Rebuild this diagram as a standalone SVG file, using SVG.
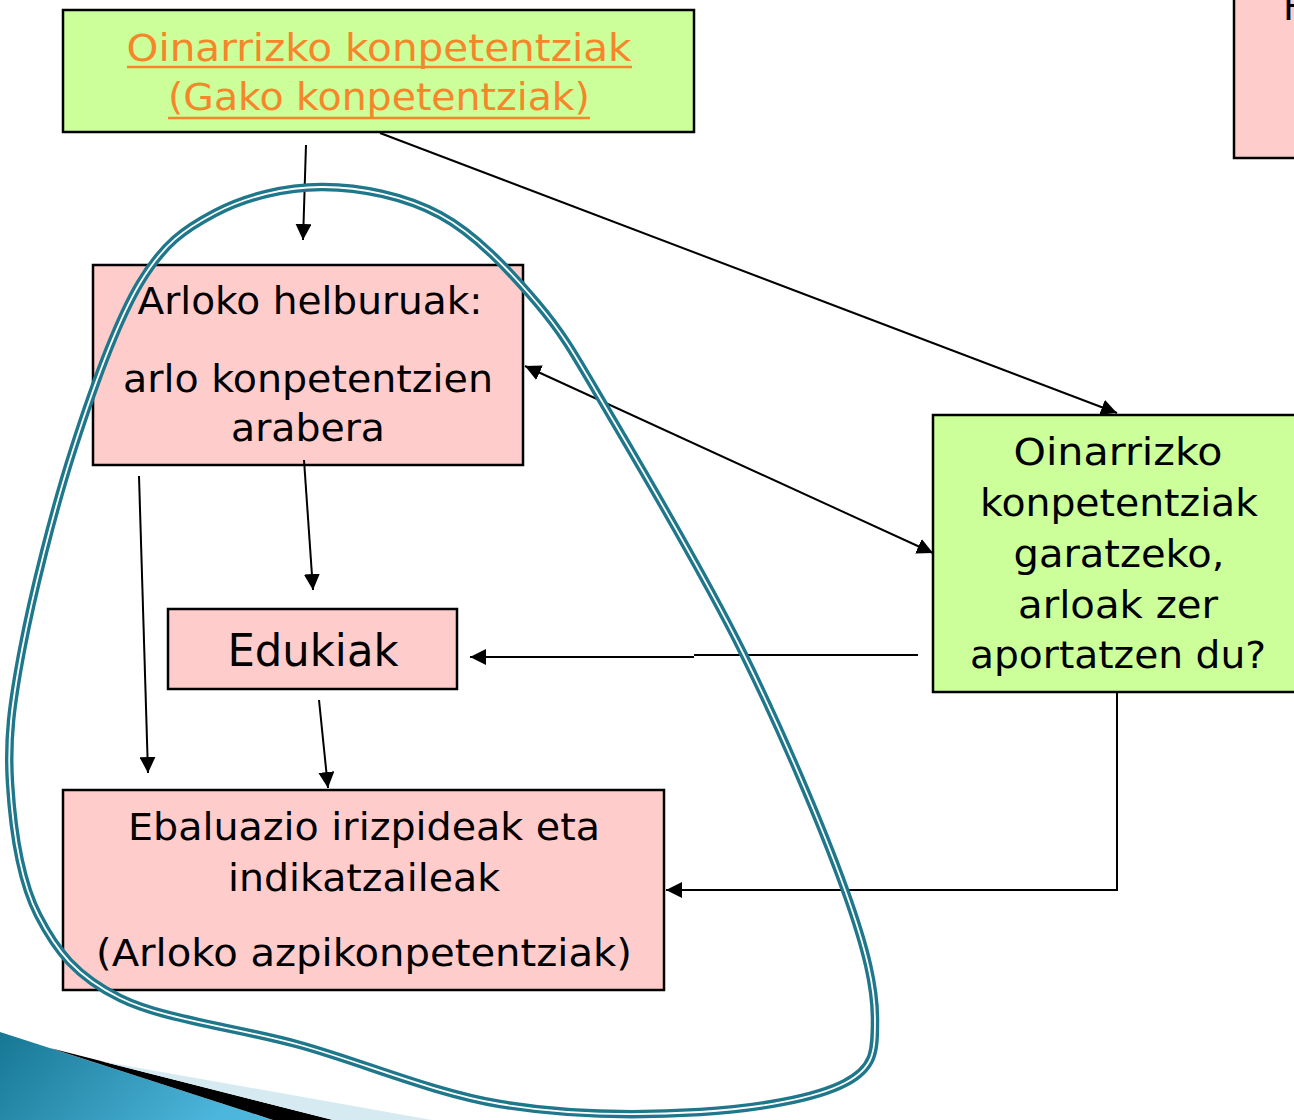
<svg xmlns="http://www.w3.org/2000/svg" width="1294" height="1120" viewBox="0 0 1294 1120">
<style>
.box{stroke:#000;stroke-width:2.5}
.green{fill:#ccff99}
.pink{fill:#ffcccc}
.t{font-family:"DejaVu Sans","Liberation Sans",sans-serif;font-size:37px;fill:#000;text-anchor:middle}
.o{fill:#f7862a}
.c{stroke:#000;stroke-width:2;fill:none}
.ar{marker-end:url(#ah)}
</style>
<defs>
<marker id="ah" markerUnits="userSpaceOnUse" markerWidth="17" markerHeight="16" refX="16" refY="8" orient="auto-start-reverse">
<path d="M0,0 L16,8 L0,16 z" fill="#000"/>
</marker>
<linearGradient id="bg" x1="0" y1="0" x2="1" y2="0.3">
<stop offset="0" stop-color="#177794"/>
<stop offset="1" stop-color="#4db6dc"/>
</linearGradient>
<path id="lp" d="M323,187 C360.5,187.3 404.3,195.7 440,215 C475.7,234.3 508.7,269.7 537,303 C565.3,336.3 575.7,356.7 610,415 C644.3,473.3 703.8,573.8 743,653 C782.2,732.2 823,828.8 845,890 C867,951.2 875,987.8 875,1020 C875,1052.2 874.2,1067.7 845,1083 C815.8,1098.3 757.5,1108.5 700,1112 C642.5,1115.5 566.7,1115.2 500,1104 C433.3,1092.8 363.3,1062.7 300,1045 C236.7,1027.3 163.7,1019.7 120,998 C76.3,976.3 56.3,950.8 38,915 C19.7,879.2 12.7,827.2 10,783 C7.3,738.8 11.5,705.5 22,650 C32.5,594.5 53.3,511.2 73,450 C92.7,388.8 116.3,322.5 140,283 C163.7,243.5 184.5,229 215,213 C245.5,197 285.5,186.7 323,187 Z"/>
</defs>
<g id="decoration">
<polygon points="0,1032 273,1120 0,1120" fill="url(#bg)"/>
<polygon points="50,1048 333,1120 273,1120" fill="#000"/>
<polygon points="100,1061 432,1120 333,1120" fill="#d6eaf2"/>
</g>
<g id="node-topright">
<rect class="box pink" x="1234" y="-5" width="70" height="163"/>
<text class="t" x="1283" y="20" style="text-anchor:start">H</text>
</g>
<g id="node-oinarrizko">
<rect class="box green" x="63" y="10" width="631" height="122"/>
<text class="t o" x="379" y="61" textLength="505" lengthAdjust="spacingAndGlyphs">Oinarrizko konpetentziak</text>
<line x1="127" y1="67" x2="632" y2="67" stroke="#f7862a" stroke-width="2.5"/>
<text class="t o" x="379" y="110" textLength="422" lengthAdjust="spacingAndGlyphs">(Gako konpetentziak)</text>
<line x1="168" y1="118" x2="590" y2="118" stroke="#f7862a" stroke-width="2.5"/>
</g>
<g id="node-helburuak">
<rect class="box pink" x="93" y="265" width="430" height="200"/>
<text class="t" x="310" y="314" textLength="345" lengthAdjust="spacingAndGlyphs">Arloko helburuak:</text>
<text class="t" x="308" y="392" textLength="370" lengthAdjust="spacingAndGlyphs">arlo konpetentzien</text>
<text class="t" x="308" y="441" textLength="154" lengthAdjust="spacingAndGlyphs">arabera</text>
</g>
<g id="node-edukiak">
<rect class="box pink" x="168" y="609" width="289" height="80"/>
<text class="t" x="313" y="666" style="font-size:44px" textLength="171" lengthAdjust="spacingAndGlyphs">Edukiak</text>
</g>
<g id="node-ebaluazio">
<rect class="box pink" x="63" y="790" width="601" height="200"/>
<text class="t" x="364" y="840" textLength="472" lengthAdjust="spacingAndGlyphs">Ebaluazio irizpideak eta</text>
<text class="t" x="364" y="891" textLength="272" lengthAdjust="spacingAndGlyphs">indikatzaileak</text>
<text class="t" x="364" y="966" textLength="536" lengthAdjust="spacingAndGlyphs">(Arloko azpikonpetentziak)</text>
</g>
<g id="node-garatzeko">
<rect class="box green" x="933" y="415" width="380" height="277"/>
<text class="t" x="1118" y="465" textLength="209" lengthAdjust="spacingAndGlyphs">Oinarrizko</text>
<text class="t" x="1119" y="516" textLength="278" lengthAdjust="spacingAndGlyphs">konpetentziak</text>
<text class="t" x="1119" y="567" textLength="211" lengthAdjust="spacingAndGlyphs">garatzeko,</text>
<text class="t" x="1118" y="618" textLength="200" lengthAdjust="spacingAndGlyphs">arloak zer</text>
<text class="t" x="1118" y="668" textLength="296" lengthAdjust="spacingAndGlyphs">aportatzen du?</text>
</g>
<g id="connectors">
<line class="c ar" x1="306" y1="145" x2="303" y2="240"/>
<line class="c ar" x1="380" y1="133" x2="1117" y2="413"/>
<line class="c ar" x1="525" y1="366" x2="933" y2="553" style="marker-start:url(#ah)"/>
<line class="c ar" x1="304" y1="460" x2="313" y2="590"/>
<line class="c ar" x1="139" y1="476" x2="148" y2="773"/>
<line class="c ar" x1="319" y1="700" x2="328" y2="788"/>
<polyline class="c" points="918,655 694,655"/>
<line class="c ar" x1="694" y1="657" x2="470" y2="657"/>
<polyline class="c ar" points="1117,692 1117,890 666,890"/>
</g>
<g id="loop" fill="none">
<use href="#lp" stroke="#1f778b" stroke-width="8.5"/>
<use href="#lp" stroke="#ffffff" stroke-width="1.8"/>
</g>
</svg>
